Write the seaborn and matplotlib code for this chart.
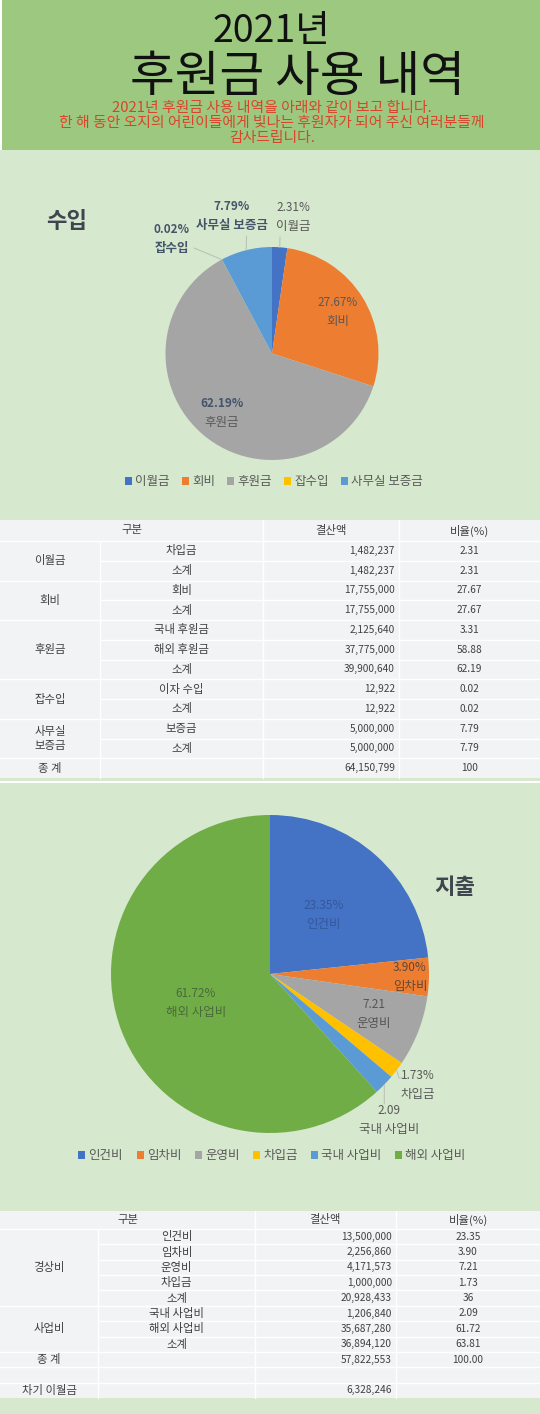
import numpy as np
import pandas as pd
import matplotlib
matplotlib.use("Agg")
import matplotlib.pyplot as plt
from matplotlib.patches import Rectangle, Patch
import seaborn as sns

# ---------------- data ----------------
title_year = "2021년"
title_main = "후원금 사용 내역"
subtitle_lines = ["2021년 후원금 사용 내역을 아래와 같이 보고 합니다.",
                  "한 해 동안 오지의 어린이들에게 빛나는 후원자가 되어 주신 여러분들께",
                  "감사드립니다."]

income_title = "수입"
income_labels = ["이월금", "회비", "후원금", "잡수입", "사무실 보증금"]
income_pct = [2.31, 27.67, 62.19, 0.02, 7.79]

expense_title = "지출"
expense_labels = ["인건비", "임차비", "운영비", "차입금", "국내 사업비", "해외 사업비"]
expense_pct = [23.35, 3.90, 7.21, 1.73, 2.09, 61.72]
expense_pct_text = ["23.35%", "3.90%", "7.21", "1.73%", "2.09", "61.72%"]

table_header = ["구분", "결산액", "비율(%)"]

t1_groups = ["이월금", "회비", "후원금", "잡수입", "사무실\n보증금", "종 계"]
t1_group_sizes = [2, 2, 3, 2, 2, 1]
t1_items = ["차입금", "소계", "회비", "소계", "국내 후원금", "해외 후원금", "소계",
            "이자 수입", "소계", "보증금", "소계", ""]
t1_amounts = [1482237, 1482237, 17755000, 17755000, 2125640, 37775000, 39900640,
              12922, 12922, 5000000, 5000000, 64150799]
t1_ratios = ["2.31", "2.31", "27.67", "27.67", "3.31", "58.88", "62.19",
             "0.02", "0.02", "7.79", "7.79", "100"]

t2_groups = ["경상비", "사업비", "종 계", "", "차기 이월금"]
t2_group_sizes = [5, 3, 1, 1, 1]
t2_items = ["인건비", "임차비", "운영비", "차입금", "소계", "국내 사업비", "해외 사업비",
            "소계", "", "", ""]
t2_amounts = [13500000, 2256860, 4171573, 1000000, 20928433, 1206840, 35687280,
              36894120, 57822553, None, 6328246]
t2_ratios = ["23.35", "3.90", "7.21", "1.73", "36", "2.09", "61.72", "63.81",
             "100.00", "", ""]

# ---------------- style ----------------
sns.set_theme(style="white")
plt.rcParams['font.family'] = ['Noto Sans CJK KR', 'DejaVu Sans']

palette = sns.color_palette(["#4472C4", "#ED7D31", "#A5A5A5", "#FFC000", "#5B9BD5", "#70AD47"])
income_colors = [palette[0], palette[1], palette[2], palette[3], palette[4]]
expense_colors = palette

W, H = 540, 1414
fig = plt.figure(figsize=(W / 100, H / 100), dpi=100)


def pixel_axes():
    a = fig.add_axes([0, 0, 1, 1])
    a.set_xlim(0, W)
    a.set_ylim(H, 0)
    a.axis("off")
    a.patch.set_alpha(0)
    return a


bg = pixel_axes()

HEAD_GREEN = "#9dc87f"
LIGHT_GREEN = "#d6e8cd"
TEXT_GREY = "#595959"
DARK_LABEL = "#44546a"

# backgrounds
bg.add_patch(Rectangle((0, 0), W, H, facecolor=LIGHT_GREEN, edgecolor="none", zorder=0))
bg.add_patch(Rectangle((0, 0), W, 150, facecolor=HEAD_GREEN, edgecolor="none", zorder=0))
bg.add_patch(Rectangle((0, 0), 2, 150, facecolor="white", edgecolor="none", zorder=0))
bg.add_patch(Rectangle((0, 781), W, 2, facecolor="white", edgecolor="none", zorder=0))

# header text
bg.text(271, 32, title_year, ha="center", va="center", fontsize=27, color="#111111")
bg.text(298, 77, title_main, ha="center", va="center", fontsize=35, color="#111111")
bg.text(272, 123, "\n".join(subtitle_lines), ha="center", va="center", fontsize=10.7,
        color="#d9452b", linespacing=1.08)


def pie_axes(cx, cy, r):
    ax = fig.add_axes([(cx - r) / W, 1 - (cy + r) / H, 2 * r / W, 2 * r / H])
    return ax


def mid_angles(vals):
    vals = np.asarray(vals, float)
    frac = vals / vals.sum()
    start = 90 - 360 * np.concatenate([[0], np.cumsum(frac)[:-1]])
    return start - 180 * frac


def edge_point(cx, cy, r, ang):
    a = np.deg2rad(ang)
    return cx + r * np.cos(a), cy - r * np.sin(a)


# ---------------- pies ----------------
c1x, c1y, r1 = 272, 353.5, 106.5
ax1 = pie_axes(c1x, c1y, r1)
ax1.pie(income_pct, colors=income_colors, startangle=90, counterclock=False,
        radius=1, wedgeprops=dict(linewidth=0))
ax1.set_xlim(-1, 1)
ax1.set_ylim(-1, 1)
ax1.axis("off")

c2x, c2y, r2 = 270, 974, 159
ax2 = pie_axes(c2x, c2y, r2)
ax2.pie(expense_pct, colors=expense_colors, startangle=90, counterclock=False,
        radius=1, wedgeprops=dict(linewidth=0))
ax2.set_xlim(-1, 1)
ax2.set_ylim(-1, 1)
ax2.axis("off")

ov = pixel_axes()

LFS = 9

# income labels
ov.text(67, 222, income_title, ha="center", va="center", fontsize=16,
        fontweight="bold", color="#3f4650")
inc_pos = [(293, 217), 0.73, 0.73, (172, 239), (232, 216.5)]
inc_pct_bold = [False, False, True, True, True]
inc_name_bold = [False, False, False, True, True]
inc_leader_start = [(280, 237), None, None, (194, 248), (246.5, 236)]
ang1 = mid_angles(income_pct)
for i, (lab, v) in enumerate(zip(income_labels, income_pct)):
    p = inc_pos[i]
    if isinstance(p, float):
        x, y = edge_point(c1x, c1y, r1 * p, ang1[i])
    else:
        x, y = p
    ov.text(x, y - 9.5, f"{v:.2f}%", ha="center", va="center", fontsize=LFS - 0.5,
            fontweight="bold" if inc_pct_bold[i] else "normal",
            color=DARK_LABEL if inc_pct_bold[i] else TEXT_GREY)
    ov.text(x, y + 9.5, lab, ha="center", va="center", fontsize=LFS,
            fontweight="bold" if inc_name_bold[i] else "normal",
            color=DARK_LABEL if inc_name_bold[i] else TEXT_GREY)
    if inc_leader_start[i] is not None:
        ex, ey = edge_point(c1x, c1y, r1, ang1[i])
        sx, sy = inc_leader_start[i]
        ov.plot([sx, ex], [sy, ey], color="#b8bfb8", lw=0.7)

handles1 = [Patch(facecolor=c, edgecolor="none") for c in income_colors]
fig.legend(handles1, income_labels, loc="center", bbox_to_anchor=(274 / W, 1 - 482 / H),
           ncol=5, frameon=False, fontsize=9, handlelength=0.55, handleheight=0.55,
           handletextpad=0.25, columnspacing=1.0, labelcolor=TEXT_GREY)

# expense labels
ov.text(455, 887, expense_title, ha="center", va="center", fontsize=16,
        fontweight="bold", color="#3f4650")
exp_pos = [0.5, 0.88, 0.70, (418, 1085), (389, 1120), 0.5]
exp_text_colors = ["#34589c", "#5e4838", "#555555", TEXT_GREY, TEXT_GREY, "#4a6a3a"]
exp_leader_end = [None, None, None, [(399, 1078), (404, 1078)], [(384.3, 1104)], None]
ang2 = mid_angles(expense_pct)
for i, lab in enumerate(expense_labels):
    p = exp_pos[i]
    if isinstance(p, float):
        x, y = edge_point(c2x, c2y, r2 * p, ang2[i])
    else:
        x, y = p
    ov.text(x, y - 9.5, expense_pct_text[i], ha="center", va="center", fontsize=LFS - 0.5,
            color=exp_text_colors[i])
    ov.text(x, y + 9.5, lab, ha="center", va="center", fontsize=LFS,
            color=exp_text_colors[i])
    if exp_leader_end[i] is not None:
        ex, ey = edge_point(c2x, c2y, r2, ang2[i])
        pts = [(ex, ey)] + exp_leader_end[i]
        ov.plot([q[0] for q in pts], [q[1] for q in pts], color="#b8bfb8", lw=0.7)

handles2 = [Patch(facecolor=c, edgecolor="none") for c in expense_colors]
fig.legend(handles2, expense_labels, loc="center", bbox_to_anchor=(272 / W, 1 - 1156 / H),
           ncol=6, frameon=False, fontsize=9, handlelength=0.55, handleheight=0.55,
           handletextpad=0.25, columnspacing=1.1, labelcolor=TEXT_GREY)


# ---------------- tables ----------------
TABLE_FILL = "#f2f3f5"
TABLE_LINE = "#ffffff"
TABLE_TEXT = "#404040"


def draw_table(top, header_h, row_h, xs, groups, sizes, items, amounts, ratios, fs, nfs):
    n = len(items)
    y0 = top + header_h
    bottom = y0 + n * row_h
    bg.add_patch(Rectangle((xs[0], top), xs[-1] - xs[0], bottom - top,
                           facecolor=TABLE_FILL, edgecolor="none", zorder=1))
    lk = dict(color=TABLE_LINE, lw=1.0, zorder=2)
    hy = top + header_h / 2
    bg.text((xs[0] + xs[2]) / 2, hy, table_header[0], ha="center", va="center", fontsize=fs, color=TABLE_TEXT, zorder=3)
    bg.text((xs[2] + xs[3]) / 2, hy, table_header[1], ha="center", va="center", fontsize=fs, color=TABLE_TEXT, zorder=3)
    bg.text((xs[3] + xs[4]) / 2, hy, table_header[2], ha="center", va="center", fontsize=fs, color=TABLE_TEXT, zorder=3)
    bg.plot([xs[1], xs[1]], [y0, bottom], **lk)
    bg.plot([xs[2], xs[2]], [top, bottom], **lk)
    bg.plot([xs[3], xs[3]], [top, bottom], **lk)
    bg.plot([xs[0], xs[-1]], [y0, y0], **lk)
    r = 0
    for gi, (g, s) in enumerate(zip(groups, sizes)):
        gy0 = y0 + r * row_h
        gy1 = gy0 + s * row_h
        bg.text((xs[0] + xs[1]) / 2, (gy0 + gy1) / 2, g, ha="center", va="center",
                fontsize=fs, color=TABLE_TEXT, linespacing=1.5, zorder=3)
        for k in range(1, s):
            yy = gy0 + k * row_h
            bg.plot([xs[1], xs[-1]], [yy, yy], **lk)
        if gi < len(groups) - 1:
            bg.plot([xs[0], xs[-1]], [gy1, gy1], **lk)
        r += s
    for i in range(n):
        cy = y0 + (i + 0.5) * row_h
        bg.text((xs[1] + xs[2]) / 2, cy, items[i], ha="center", va="center",
                fontsize=fs, color=TABLE_TEXT, zorder=3)
        if amounts[i] is not None:
            bg.text(xs[3] - 4, cy, f"{amounts[i]:,}", ha="right", va="center",
                    fontsize=nfs, color=TABLE_TEXT, zorder=3)
        bg.text((xs[3] + xs[4]) / 2, cy, ratios[i], ha="center", va="center",
                fontsize=nfs, color=TABLE_TEXT, zorder=3)
    return bottom


draw_table(520, 21, (778 - 541) / 12, [0, 100, 263, 399, 540], t1_groups, t1_group_sizes,
           t1_items, t1_amounts, t1_ratios, fs=8.2, nfs=7.3)

draw_table(1211, 18, (1398 - 1229) / 11, [0, 98, 255, 396, 540], t2_groups, t2_group_sizes,
           t2_items, t2_amounts, t2_ratios, fs=8.2, nfs=7.3)

fig.savefig("out.png", dpi=100)
